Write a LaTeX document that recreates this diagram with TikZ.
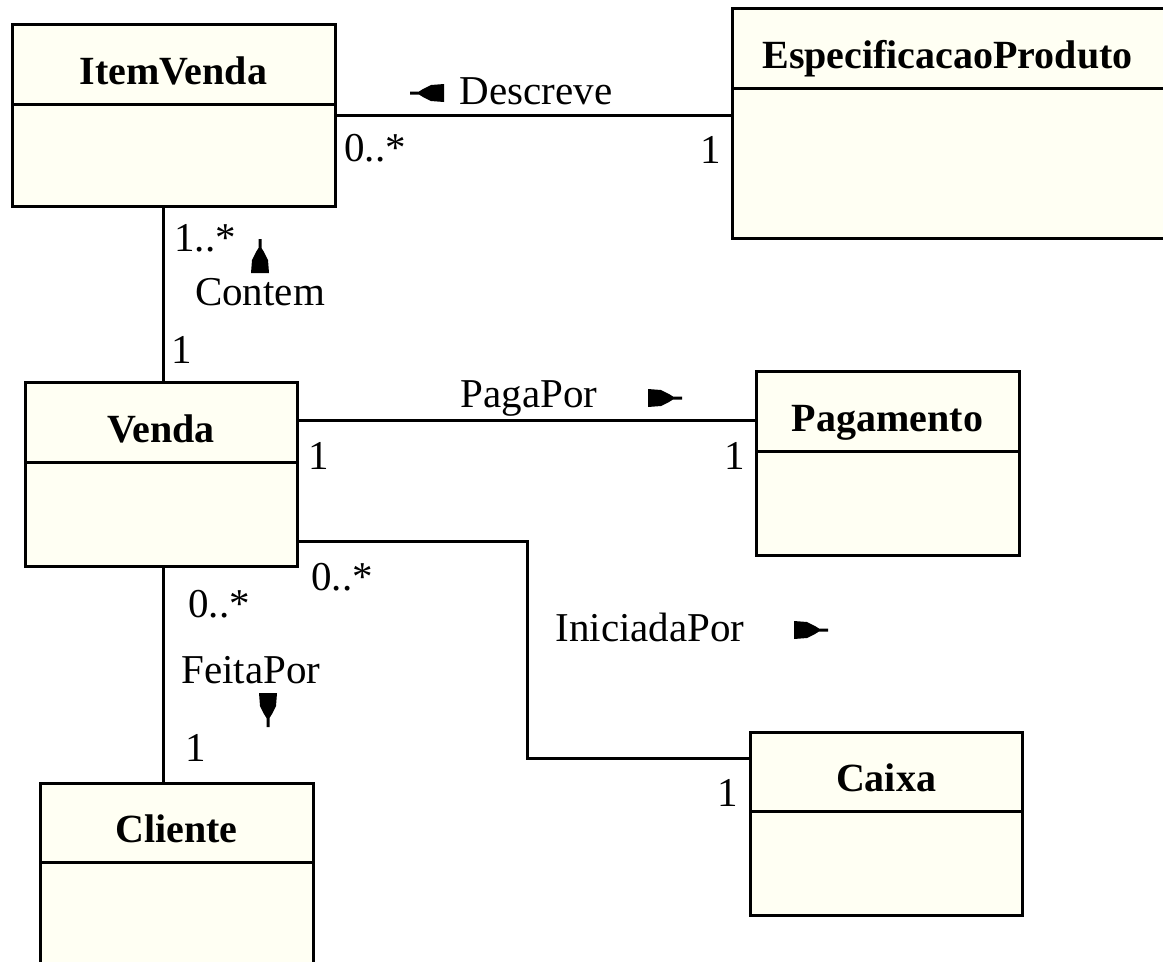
\documentclass[tikz,border=0pt]{standalone}
\usepackage{fontspec}
\setmainfont{Liberation Serif}
\usepackage{xcolor}
\usepackage{tikz}
\usetikzlibrary{positioning}
\definecolor{classfill}{RGB}{255,255,243}
\tikzset{
  %% Class name compartment
  chead/.style={
    rectangle, draw=black, fill=classfill,
    line width=3pt, outer sep=0pt, inner sep=0pt,
    minimum width=#1, minimum height=80pt,
    font=\fontsize{40}{44}\selectfont\bfseries,
    text height=40pt, text depth=0pt,
    anchor=north west
  },
  %% Empty attribute compartment
  cbody/.style={
    rectangle, draw=black, fill=classfill,
    line width=3pt, outer sep=0pt, inner sep=0pt,
    minimum width=#1
  },
  %% Role names and multiplicities
  lbl/.style={
    font=\fontsize{41}{44}\selectfont, inner sep=0pt,
    text height=27pt, text depth=0pt
  },
  %% Association line
  assoc/.style={draw=black, line width=3pt},
  %% Reading direction of an association
  navmark/.pic={
    \fill (-17,-9) -- (-17,9) -- (-4,8) -- (4,4) -- (8,1.5) -- (17,1.5)
      -- (17,-1.5) -- (8,-1.5) -- (4,-4) -- (-4,-8) -- cycle;
  }
}

\begin{document}
\begin{tikzpicture}[x=1pt, y=-1pt]
  \clip (0,0) rectangle (1163,962);

  % classes
  \node[chead=323pt] (itemH) at (12,24) {ItemVenda};
  \node[cbody=323pt, minimum height=102pt, below=0pt of itemH] (itemB) {};
  \node[chead=443pt] (especH) at (732,8) {\hspace*{-12pt}EspecificacaoProduto};
  \node[cbody=443pt, minimum height=150pt, below=0pt of especH] (especB) {};
  \node[chead=272pt] (vendaH) at (25,382) {Venda};
  \node[cbody=272pt, minimum height=104pt, below=0pt of vendaH] (vendaB) {};
  \node[chead=263pt] (pagaH) at (756,371) {Pagamento};
  \node[cbody=263pt, minimum height=104pt, below=0pt of pagaH] (pagaB) {};
  \node[chead=272pt, minimum height=79pt] (caixaH) at (750,732) {Caixa};
  \node[cbody=272pt, minimum height=104pt, below=0pt of caixaH] (caixaB) {};
  \node[chead=273pt, minimum height=79pt] (clienteH) at (40,783) {Cliente};
  \node[cbody=273pt, minimum height=130pt, below=0pt of clienteH] (clienteB) {};

  % where the lines run
  \coordinate (spine) at (163,0);
  \coordinate (descY) at (0,115);
  \coordinate (pagaY) at (0,420);
  \coordinate (iniY) at (0,541);
  \coordinate (turn) at (527,758);

  % associations
  \draw[assoc] (itemB.east |- descY) -- (especB.west |- descY);
  \draw[assoc] (itemB.south -| spine) -- (vendaH.north -| spine);
  \draw[assoc] (vendaH.east |- pagaY) -- (pagaH.west |- pagaY);
  \draw[assoc] (vendaB.east |- iniY) -| (turn) -- (caixaH.west |- turn);
  \draw[assoc] (vendaB.south -| spine) -- (clienteH.north -| spine);

  % Descreve
  \node[lbl] (descN) at (536,91) {Descreve};
  \pic[rotate=180] at (427,93) {navmark};
  \node[lbl] (descM1) at (375,148) {0..*};
  \node[lbl] (descM2) at (711,150) {1};

  % Contem
  \node[lbl] (contM1) at (205,238) {1..*};
  \pic[rotate=90] at (260,256) {navmark};
  \node[lbl] (contN) at (260,292) {Contem};
  \node[lbl] (contM2) at (182,350) {1};

  % PagaPor
  \node[lbl] (pagaN) at (529,394) {PagaPor};
  \pic at (665,398) {navmark};
  \node[lbl] (pagaM1) at (319,456) {1};
  \node[lbl] (pagaM2) at (735,456) {1};

  % IniciadaPor
  \node[lbl] (iniM1) at (342,577) {0..*};
  \node[lbl] (iniN) at (650,628) {IniciadaPor};
  \pic at (811,630) {navmark};
  \node[lbl] (iniM2) at (728,793) {1};

  % FeitaPor
  \node[lbl] (feitaM1) at (219,604) {0..*};
  \node[lbl] (feitaN) at (251,670) {FeitaPor};
  \pic[rotate=-90] at (268,710) {navmark};
  \node[lbl] (feitaM2) at (196,748) {1};
\end{tikzpicture}
\end{document}
